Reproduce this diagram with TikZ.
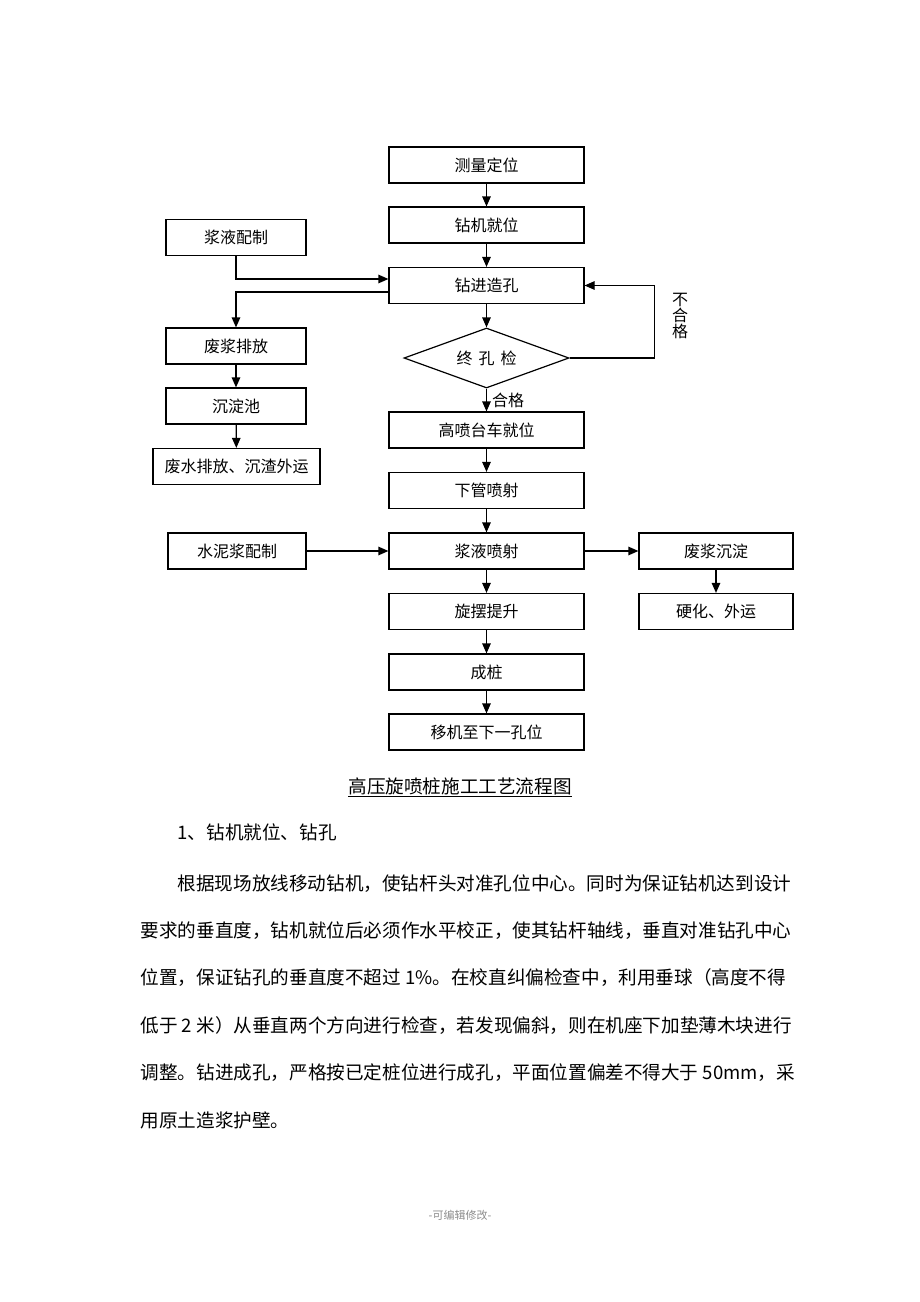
\documentclass[tikz,border=0pt]{standalone}
\usepackage{fontspec}
\setmainfont{Noto Sans CJK SC}
\usetikzlibrary{arrows.meta,shapes.geometric}

\begin{document}
\begin{tikzpicture}[->,>={Triangle[length=10pt,width=8.5pt]},x=1pt,y=-1pt,line width=1.2pt,
   box/.style={draw,rectangle,minimum height=36pt,inner sep=0pt,font=\fontsize{16}{16}\selectfont},
   txt/.style={anchor=west,inner sep=0pt,font=\fontsize{18.6}{18.6}\selectfont}]
   \useasboundingbox (0,0) rectangle (920,1302);

   % main column
   \node[box,minimum width=195pt] (a) at (486.5,165) {测量定位};
   \node[box,minimum width=195pt] (b) at (486.5,225) {钻机就位};
   \node[box,minimum width=195pt] (c) at (486.5,285.5) {钻进造孔};
   \node[draw,diamond,aspect=2.75,minimum width=165pt,minimum height=60pt,inner sep=0pt,
         font=\fontsize{16}{16}\selectfont] (d) at (486.5,358) {终\hspace{6pt}孔\hspace{6pt}检};
   \node[box,minimum width=195pt] (e) at (486.5,430) {高喷台车就位};
   \node[box,minimum width=195pt] (f) at (486.5,490.5) {下管喷射};
   \node[box,minimum width=195pt] (g) at (486.5,551) {浆液喷射};
   \node[box,minimum width=195pt] (h) at (486.5,611.5) {旋摆提升};
   \node[box,minimum width=195pt] (i) at (486.5,672) {成桩};
   \node[box,minimum width=195pt] (j) at (486.5,732) {移机至下一孔位};

   % left column
   \node[box,minimum width=140pt] (k) at (236,237.5) {浆液配制};
   \node[box,minimum width=140pt] (l) at (236,346) {废浆排放};
   \node[box,minimum width=140pt] (m) at (236,406) {沉淀池};
   \node[box,minimum width=167pt] (n) at (236.5,466.5) {废水排放、沉渣外运};
   \node[box,minimum width=138pt] (o) at (237,551) {水泥浆配制};

   % right column
   \node[box,minimum width=154pt] (p) at (716,551) {废浆沉淀};
   \node[box,minimum width=154pt] (q) at (716,611.5) {硬化、外运};

   \draw (a) -- (b);
   \draw (b) -- (c);
   \draw (c) -- (d);
   \draw (k.south) |- ([yshift=6.5pt]c.west);
   \draw ([yshift=-6.5pt]c.west) -| (l.north);
   \draw (l) -- (m);
   \draw (m) -- (n);
   \draw (d.east) -- ++(85,0) |- (c.east);
   \draw (d) -- (e);
   \draw (e) -- (f);
   \draw (f) -- (g);
   \draw (g) -- (h);
   \draw (h) -- (i);
   \draw (i) -- (j);
   \draw (o) -- (g);
   \draw (g) -- (p);
   \draw (p) -- (q);

   \node[align=center,inner sep=0pt,font=\fontsize{16}{16}\selectfont] (r) at (680,316) {不\\合\\格};
   \node[inner sep=0pt,font=\fontsize{16}{16}\selectfont] (s) at (508,400) {合格};

   % caption and text
   \node[inner sep=0pt,font=\fontsize{18.6}{18.6}\selectfont] (t) at (460,787) {\underline{高压旋喷桩施工工艺流程图}};
   \node[txt] (u) at (177,832) {1、钻机就位、钻孔};
   \node[txt] (v1) at (177,884) {根据现场放线移动钻机，使钻杆头对准孔位中心。同时为保证钻机达到设计};
   \node[txt] (v2) at (140,931) {要求的垂直度，钻机就位后必须作水平校正，使其钻杆轴线，垂直对准钻孔中心};
   \node[txt] (v3) at (140,978) {位置，保证钻孔的垂直度不超过 1\%。在校直纠偏检查中，利用垂球（高度不得};
   \node[txt] (v4) at (140,1026) {低于 2 米）从垂直两个方向进行检查，若发现偏斜，则在机座下加垫薄木块进行};
   \node[txt] (v5) at (140,1073) {调整。钻进成孔，严格按已定桩位进行成孔，平面位置偏差不得大于 50mm，采};
   \node[txt] (v6) at (140,1120) {用原土造浆护壁。};

   \node[inner sep=0pt,text=black!45,font=\fontsize{11}{11}\selectfont] (w) at (460,1215) {-可编辑修改-};
\end{tikzpicture}
\end{document}
